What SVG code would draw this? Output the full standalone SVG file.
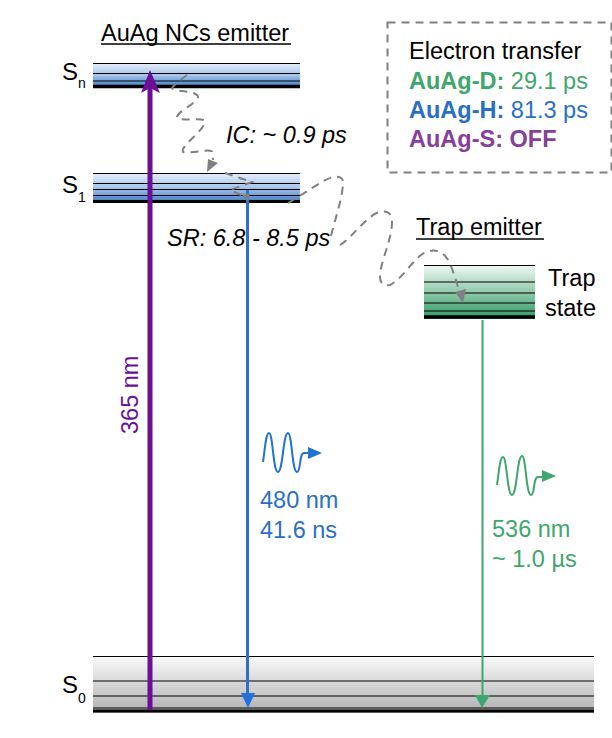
<svg xmlns="http://www.w3.org/2000/svg" width="612" height="738" viewBox="0 0 612 738">
<style>
text{font-family:"Liberation Sans",Arial,sans-serif;font-size:23.500px;fill:#000}
.sub{font-size:14px}
.it{font-style:italic}
.lv{stroke:#000;fill:none}
.dash{fill:none;stroke:#808080;stroke-width:2;stroke-dasharray:8 6}
.blue{fill:#2a6fc4}.green{fill:#3fa66e}.purple{fill:#86409c}
</style>
<defs>
<linearGradient id="gb" x1="0" y1="0" x2="0" y2="1"><stop offset="0" stop-color="#e8f0fa"/><stop offset="0.500" stop-color="#a3c3ea"/><stop offset="1" stop-color="#3a78c4"/></linearGradient>
<linearGradient id="gg" x1="0" y1="0" x2="0" y2="1"><stop offset="0" stop-color="#f2f9f4"/><stop offset="1" stop-color="#2f9a62"/></linearGradient>
<linearGradient id="gs" x1="0" y1="0" x2="0" y2="1"><stop offset="0" stop-color="#fafafa"/><stop offset="1" stop-color="#b0b0b0"/></linearGradient>
</defs>

<g id="title-nc"><text x="101" y="41">AuAg NCs emitter</text><path d="M101 44H291" stroke="#000" stroke-width="1.500"/></g>
<g id="title-trap"><text x="416" y="235">Trap emitter</text><path d="M416 239H544" stroke="#000" stroke-width="1.500"/></g>

<g id="level-Sn">
<rect x="93" y="63" width="207" height="25" fill="url(#gb)"/>
<path class="lv" d="M93 63.500H300M93 73.500H300" stroke-width="1"/>
<path class="lv" d="M93 81H300" stroke-width="1" stroke="#1c3a66"/>
<path class="lv" d="M93 86.500H300" stroke-width="3.500"/>
<text x="62" y="80" style="font-size:24px">S</text><text class="sub" x="78" y="88">n</text>
</g>
<g id="level-S1">
<rect x="93" y="173" width="207" height="30" fill="url(#gb)"/>
<path class="lv" d="M93 173.500H300M93 183.500H300M93 189.500H300M93 195.500H300" stroke-width="1"/>
<path class="lv" d="M93 201.500H300" stroke-width="3"/>
<text x="62" y="193" style="font-size:24px">S</text><text class="sub" x="78" y="202">1</text>
</g>
<g id="level-trap">
<rect x="424" y="265" width="111" height="54" fill="url(#gg)"/>
<path class="lv" d="M424 265.500H535M424 282H535M424 293H535M424 303H535M424 311H535" stroke-width="1"/>
<path class="lv" d="M424 317H535" stroke-width="3.500"/>
<text x="548" y="286">Trap</text><text x="545" y="316">state</text>
</g>
<g id="level-S0">
<rect x="93" y="656" width="501" height="57" fill="url(#gs)"/>
<path class="lv" d="M93 656.500H594" stroke-width="1"/>
<path class="lv" d="M93 681H594M93 696H594M93 708H594" stroke-width="1.200"/>
<path class="lv" d="M93 711H594" stroke-width="3"/>
<text x="62" y="693" style="font-size:24px">S</text><text class="sub" x="78" y="703">0</text>
</g>

<g id="box-transfer">
<rect x="387.500" y="22.500" width="224" height="150" fill="none" stroke="#808080" stroke-width="2" stroke-dasharray="8 6"/>
<text x="409" y="59">Electron transfer</text>
<text x="409" y="89" class="green"><tspan font-weight="700">AuAg-D:</tspan> 29.1 ps</text>
<text x="409" y="118" class="blue"><tspan font-weight="700">AuAg-H:</tspan> 81.3 ps</text>
<text x="409" y="147" class="purple" font-weight="700">AuAg-S: OFF</text>
</g>

<g id="connectors">
<path d="M150 710V85" stroke="#6a0f96" stroke-width="5" fill="none"/>
<path d="M150 70L160 93L150 88L141 93Z" fill="#6a0f96"/>
<path d="M247.500 190V695" stroke="#2a70cc" stroke-width="3" fill="none"/>
<path d="M241 693H255L248 708Z" fill="#2272dc"/>
<path d="M482.500 320V697" stroke="#3fa66e" stroke-width="2" fill="none"/>
<path d="M475 695H490L482 708Z" fill="#3fa66e"/>
<path class="dash" d="M187 75C180 80 175 84 172 88C172 92 198 90 198 97C196 104 176 112 177 118C182 122 205 116 205 122C203 132 180 146 183 152C190 154 212 148 212 152L213 160"/>
<path d="M207 172L218 163L208 159Z" fill="#808080"/>
<path class="dash" d="M225 173L252 182L230 190L245 197"/>
<path d="M242 195L250 193L248 202Z" fill="#808080"/>
<path class="dash" d="M288 203C304 194 322 180 333 177C340 176 343 178 343 182C343 198 334 222 330 240"/>
<path class="dash" d="M340 245C352 238 368 214 380 212C388 210 392 214 392 222C392 240 380 262 380 277C380 284 384 286 390 285C404 278 416 254 427 252C436 248 444 252 450 263C454 274 457 284 460 293"/>
<path d="M455 292L466 289L463 303Z" fill="#808080"/>
</g>

<g id="label-365"><text x="138" y="434" transform="rotate(-90 138 434)" style="fill:#6a0f96">365 nm</text></g>
<g id="label-ic"><text class="it" x="226" y="143">IC: ~ 0.9 ps</text></g>
<g id="label-sr"><text class="it" x="167" y="246">SR: 6.8 - 8.5 ps</text></g>

<g id="emission-blue">
<path d="M263 462C265 448 266 433 269 433C273 433 273 472 278 472C283 472 283 433 288 433C292 433 292 472 297 472C301 472 299 453 304 453H312" fill="none" stroke="#2272d0" stroke-width="2"/>
<path d="M308 447L322 453L308 459Z" fill="#2272d0"/>
<text x="260" y="508" class="blue">480 nm</text><text x="260" y="538" class="blue">41.6 ns</text>
</g>
<g id="emission-green">
<path d="M497 485C499 471 500 457 503 457C507 457 507 495 512 495C517 495 517 456 522 456C526 456 526 495 531 495C535 495 533 477 538 477H546" fill="none" stroke="#3fa66e" stroke-width="2"/>
<path d="M542 470L556 476L542 482Z" fill="#3fa66e"/>
<text x="492" y="537" class="green">536 nm</text><text x="492" y="567" class="green">~ 1.0 µs</text>
</g>
</svg>
